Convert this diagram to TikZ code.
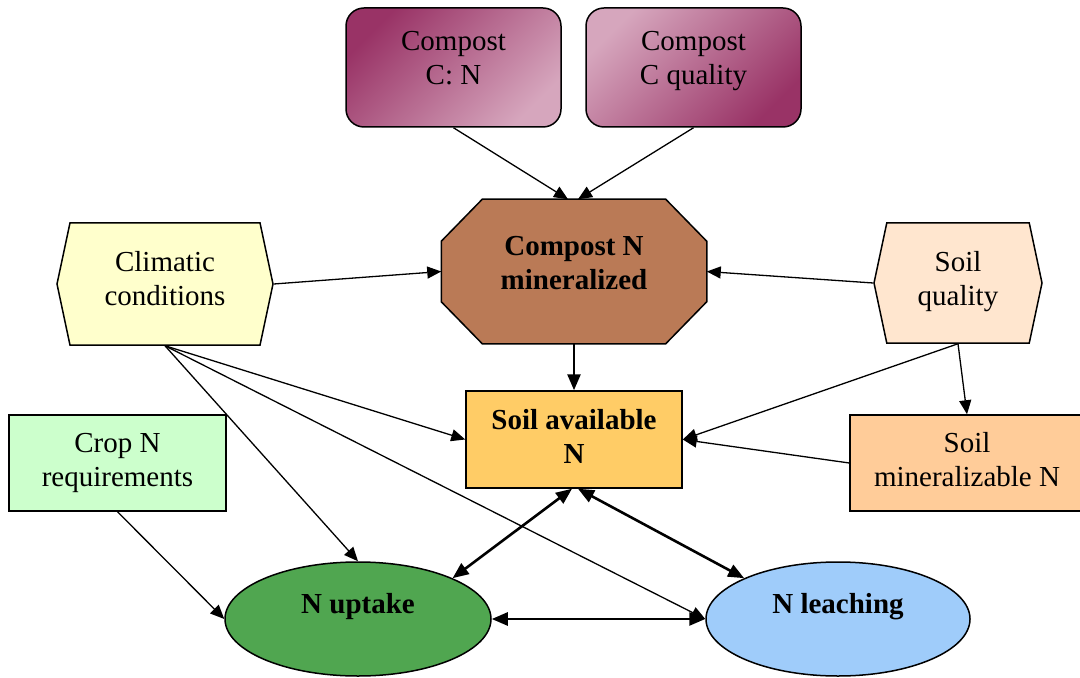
\documentclass[tikz,border=0pt]{standalone}
\usepackage{fontspec}
\setmainfont{Liberation Serif}
\usepackage{tikz}
\usetikzlibrary{shapes.geometric, shapes.symbols, arrows.meta, positioning, backgrounds}

\definecolor{compostdark}{HTML}{993366}
\definecolor{compostlight}{HTML}{D6A6BD}
\definecolor{mineralcolor}{HTML}{BA7A56}
\definecolor{climatecolor}{HTML}{FFFFCC}
\definecolor{qualitycolor}{HTML}{FFE6CF}
\definecolor{availcolor}{HTML}{FFCC66}
\definecolor{cropcolor}{HTML}{CCFFCC}
\definecolor{poolcolor}{HTML}{FFCC99}
\definecolor{uptakecolor}{HTML}{50A650}
\definecolor{leachcolor}{HTML}{9FCCFA}

% text sits a little above the middle of its shape
\newcommand{\lift}[2]{\raisebox{#1}[\height][\depth]{\begin{tabular}{@{}c@{}}#2\end{tabular}}}

\begin{document}
\begin{tikzpicture}[
    x=0.5pt, y=-0.5pt,
    font=\fontsize{14.5}{17}\selectfont,
    every node/.style={line width=0.75pt, inner sep=2pt},
    compost/.style={draw, rounded corners=9pt, minimum width=107.5pt, minimum height=59.5pt},
    octagon/.style={rectangle, minimum width=132pt, minimum height=71.5pt, font=\fontsize{14.5}{17}\selectfont\bfseries},
    hexa/.style={draw, signal, signal to=west and east, signal pointer angle=156},
    factor/.style={draw, rectangle, minimum height=48pt},
    outcome/.style={draw, ellipse, minimum width=133pt, minimum height=57pt, font=\fontsize{14.5}{17}\selectfont\bfseries},
    arrow/.style={-{Triangle[length=7pt, width=6pt]}, line width=0.65pt},
    thickarrow/.style={-{Triangle[length=8pt, width=6.5pt]}, line width=1.3pt},
    both/.style={{Triangle[length=8pt, width=6.5pt]}-{Triangle[length=8pt, width=6.5pt]}, line width=1.3pt}
]
    \useasboundingbox (0,0) rectangle (1080,678);

    % Compost properties
    \node[compost, top color=compostdark, bottom color=compostlight, shading angle=45] (cn) at (453.5,67.5) {\lift{3.5pt}{Compost\\C: N}};
    \node[compost, top color=compostlight, bottom color=compostdark, shading angle=45] (cq) at (693.5,67.5) {\lift{3.5pt}{Compost\\C quality}};

    % Middle row
    \node[octagon] (cnm) at (574,271.5) {\lift{3pt}{Compost N\\mineralized}};
    \begin{scope}[on background layer]
        \draw[fill=mineralcolor, line width=0.75pt]
            ([xshift=20.5pt]cnm.north west) -- ([xshift=-20.5pt]cnm.north east)
            -- ([yshift=-21pt]cnm.north east) -- ([yshift=21pt]cnm.south east)
            -- ([xshift=-20.5pt]cnm.south east) -- ([xshift=20.5pt]cnm.south west)
            -- ([yshift=21pt]cnm.south west) -- ([yshift=-21pt]cnm.north west) -- cycle;
    \end{scope}
    \node[hexa, fill=climatecolor, minimum width=108pt, minimum height=61pt] (clim) at (165,284) {\lift{1pt}{Climatic\\conditions}};
    \node[hexa, fill=qualitycolor, minimum width=84pt, minimum height=60pt] (sq) at (958,283) {\lift{0.5pt}{Soil\\quality}};

    % Soil pools and demand
    \node[factor, fill=availcolor, minimum width=108pt, minimum height=48.5pt, font=\fontsize{14.5}{17}\selectfont\bfseries] (sa) at (574,439.5) {\lift{0pt}{Soil available\\N}};
    \node[factor, fill=cropcolor, minimum width=108.5pt] (crop) at (117.5,463) {\lift{0pt}{Crop N\\requirements}};
    \node[factor, fill=poolcolor, minimum width=117pt] (sm) at (967,463) {\lift{0pt}{Soil\\mineralizable N}};

    % Fates of N
    \node[outcome, fill=uptakecolor] (nu) at (358,619) {\lift{6pt}{N uptake}};
    \node[outcome, fill=leachcolor, minimum width=132pt] (nl) at (838,619) {\lift{6pt}{N leaching}};

    % Relationships
    \draw[arrow] (cn.south) -- ([xshift=-3pt]cnm.north);
    \draw[arrow] (cq.south) -- ([xshift=2pt]cnm.north);
    \draw[arrow] (clim.east) -- (cnm.west);
    \draw[arrow] (sq.west) -- (cnm.east);
    \draw[thickarrow] (cnm.south) -- (sa.north);
    \draw[arrow] (clim.south) -- (sa.west);
    \draw[arrow] (clim.south) -- (nu.north);
    \draw[arrow] (clim.south) -- (nl.west);
    \draw[arrow] (sq.south) -- (sa.east);
    \draw[arrow] (sq.south) -- (sm.north);
    \draw[arrow] (sm.west) -- (sa.east);
    \draw[arrow] (crop.south) -- (nu.west);
    \draw[both] ([xshift=-1pt]sa.south) -- (nu.north east);
    \draw[both] ([xshift=2pt]sa.south) -- (nl.north west);
    \draw[both] (nu.east) -- (nl.west);
\end{tikzpicture}
\end{document}
